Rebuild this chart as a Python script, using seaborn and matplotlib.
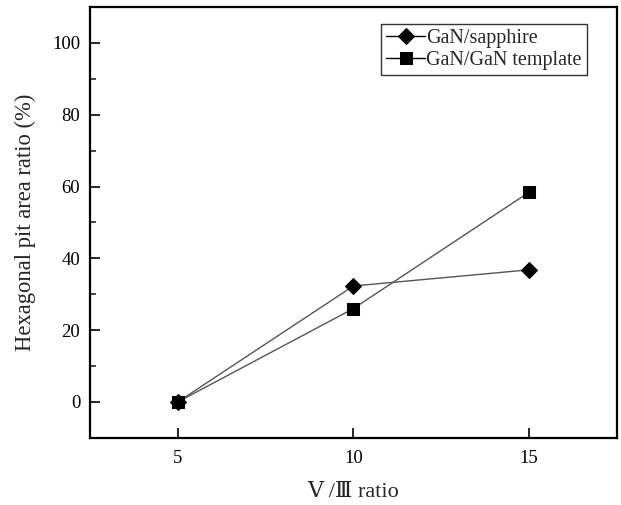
import pandas as pd
import matplotlib
matplotlib.use("Agg")
import matplotlib.pyplot as plt
import seaborn as sns
from matplotlib.ticker import MultipleLocator

# ===============================
# Data
# ===============================
v_iii_ratio = [5, 10, 15]
gan_sapphire = [0, 32.3, 36.8]
gan_template = [0, 26.0, 58.4]
series_names = ["GaN/sapphire", "GaN/GaN template"]

df = pd.DataFrame({
    "ratio": v_iii_ratio * 2,
    "value": gan_sapphire + gan_template,
    "series": [series_names[0]] * 3 + [series_names[1]] * 3,
})

# ===============================
# Style
# ===============================
sns.set_style("ticks")
plt.rcParams["font.family"] = ["Liberation Serif", "DejaVu Serif", "Noto Sans CJK SC"]
plt.rcParams["font.size"] = 13
plt.rcParams["xtick.direction"] = "in"
plt.rcParams["ytick.direction"] = "in"

fig = plt.figure(figsize=(6.21, 5.05), dpi=100)
ax = fig.add_axes([0.145, 0.133, 0.848, 0.853])

sns.lineplot(data=df, x="ratio", y="value", hue="series", style="series",
             markers={series_names[0]: "D", series_names[1]: "s"},
             dashes=False, palette={series_names[0]: "black", series_names[1]: "black"},
             markersize=8, linewidth=1, ax=ax, legend=True)

# grey lines, black markers
for line in ax.get_lines():
    line.set_color("#555555")
    line.set_markerfacecolor("black")
    line.set_markeredgecolor("black")

ax.set_xlim(2.5, 17.5)
ax.set_ylim(-10, 110)
ax.set_xticks(v_iii_ratio)
ax.yaxis.set_major_locator(MultipleLocator(20))
ax.yaxis.set_minor_locator(MultipleLocator(10))
ax.set_yticks([0, 20, 40, 60, 80, 100])
ax.tick_params(axis="both", which="major", length=7, width=1.2, labelsize=13.5, colors="black")
ax.tick_params(axis="y", which="minor", length=4.5, width=1.2)
ax.tick_params(axis="x", pad=9)
ax.tick_params(axis="y", pad=7)

for sp in ax.spines.values():
    sp.set_linewidth(1.6)
    sp.set_color("black")

ax.set_xlabel("Ⅴ /Ⅲ ratio", fontsize=16, labelpad=11)
ax.set_ylabel("Hexagonal pit area ratio (%)", fontsize=16.3, labelpad=12)

leg = ax.legend(loc="upper right", bbox_to_anchor=(0.955, 0.975), fontsize=14.5,
                frameon=True, fancybox=False, edgecolor="black",
                handlelength=1.95, handletextpad=0.05, borderpad=0.25,
                labelspacing=0.15, borderaxespad=0.3)
leg.get_frame().set_linewidth(1)
for h in leg.get_lines():
    h.set_color("black")
    h.set_linewidth(1)

fig.savefig("out.png", dpi=100)
plt.close()
